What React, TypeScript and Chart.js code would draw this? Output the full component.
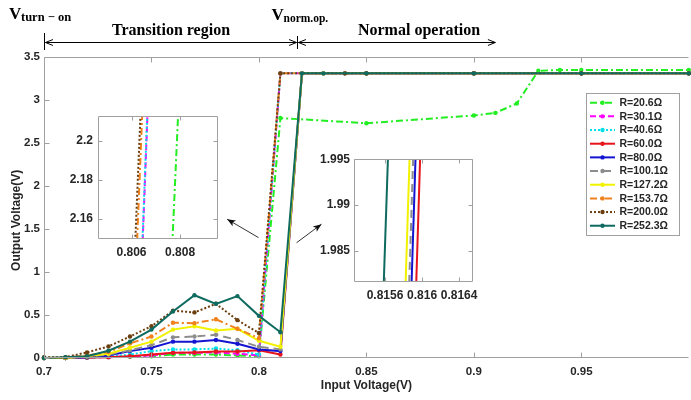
import React, { useEffect, useRef } from 'react';
import { Chart, registerables } from 'chart.js';
Chart.register(...registerables);

const SANS = '"Liberation Sans", Arial, sans-serif';
const SERIF = '"Liberation Serif", "Times New Roman", serif';
const TXT = '#262626';
const AXIS = '#a0a0a0';

// ---------------- data ----------------
const X_TICKS = [0.7, 0.75, 0.8, 0.85, 0.9, 0.95];
const Y_TICKS = [0, 0.5, 1, 1.5, 2, 2.5, 3, 3.5];
const INSET1_X_TICKS = [0.806, 0.808];
const INSET1_Y_TICKS = [2.16, 2.18, 2.2];
const INSET2_X_TICKS = [0.8156, 0.816, 0.8164];
const INSET2_Y_TICKS = [1.985, 1.99, 1.995];

const X_LOW = [0.70, 0.71, 0.72, 0.73, 0.74, 0.75, 0.76, 0.77, 0.78, 0.79, 0.80, 0.81];
const X_EARLY = [...X_LOW, 0.84, 0.85, 0.90, 0.95, 1.00];
const X_LATE = [...X_LOW, 0.82, 0.83, 0.85, 0.90, 0.95, 1.00];
const X_R20 = [...X_LOW, 0.85, 0.90, 0.91, 0.92, 0.93, 0.94, 0.95, 1.00];

const Y_R20 = [0, 0, 0.005, 0.01, 0.015, 0.02, 0.04, 0.04, 0.04, 0.03, 0.02, 2.79, 2.73, 2.82, 2.85, 2.96, 3.34, 3.35, 3.35, 3.35];
const Y_R30 = [0, 0, 0.005, 0.01, 0.02, 0.03, 0.06, 0.06, 0.065, 0.05, 0.03, 3.31, 3.31, 3.31, 3.31, 3.31, 3.31];
const Y_R40 = [0, 0, 0.005, 0.015, 0.04, 0.08, 0.10, 0.10, 0.11, 0.09, 0.04, 3.31, 3.31, 3.31, 3.31, 3.31, 3.31];
const Y_R60 = [0, 0, 0.005, 0.01, 0.02, 0.04, 0.06, 0.065, 0.075, 0.075, 0.09, 0.04, 3.31, 3.31, 3.31, 3.31, 3.31, 3.31];
const Y_R80 = [0, 0, 0.01, 0.03, 0.08, 0.12, 0.19, 0.19, 0.21, 0.165, 0.10, 0.08, 3.31, 3.31, 3.31, 3.31, 3.31, 3.31];
const Y_R100 = [0, 0, 0.015, 0.04, 0.09, 0.15, 0.24, 0.25, 0.27, 0.21, 0.13, 0.10, 3.31, 3.31, 3.31, 3.31, 3.31, 3.31];
const Y_R127 = [0, 0, 0.02, 0.05, 0.12, 0.19, 0.33, 0.37, 0.32, 0.34, 0.20, 0.13, 3.31, 3.31, 3.31, 3.31, 3.31, 3.31];
const Y_R153 = [0, 0.005, 0.03, 0.07, 0.17, 0.25, 0.41, 0.405, 0.45, 0.34, 0.23, 3.31, 3.31, 3.31, 3.31, 3.31, 3.31];
const Y_R200 = [0.01, 0.01, 0.065, 0.135, 0.25, 0.37, 0.55, 0.53, 0.63, 0.44, 0.29, 3.31, 3.31, 3.31, 3.31, 3.31, 3.31];
const Y_R252 = [0, 0.01, 0.02, 0.085, 0.19, 0.33, 0.54, 0.73, 0.63, 0.72, 0.49, 0.30, 3.31, 3.31, 3.31, 3.31, 3.31, 3.31];

const LABELS = ['R=20.6Ω', 'R=30.1Ω', 'R=40.6Ω', 'R=60.0Ω', 'R=80.0Ω', 'R=100.1Ω', 'R=127.2Ω', 'R=153.7Ω', 'R=200.0Ω', 'R=252.3Ω'];

// annotation positions (in data units)
const V_TURN_ON = 0.7;
const V_NORM_OP = 0.8177;
const NORMAL_END = 0.91;
const NORMAL_LABEL_X = 0.8745;
const Y_TITLE_CENTER = 1.6;
const ARROW1 = { x0: 0.7998, y0: 1.40, x1: 0.7852, y1: 1.614 };
const ARROW2 = { x0: 0.8175, y0: 1.34, x1: 0.8291, y1: 1.556 };

const SERIES = [
  { label: LABELS[0], x: X_R20, y: Y_R20, color: '#22ee22', dash: [7, 3, 2, 3] },
  { label: LABELS[1], x: X_EARLY, y: Y_R30, color: '#ff00ff', dash: [6, 3] },
  { label: LABELS[2], x: X_EARLY, y: Y_R40, color: '#00e0ea', dash: [2, 2] },
  { label: LABELS[3], x: X_LATE, y: Y_R60, color: '#e8141c', dash: [] },
  { label: LABELS[4], x: X_LATE, y: Y_R80, color: '#1414d2', dash: [] },
  { label: LABELS[5], x: X_LATE, y: Y_R100, color: '#8c8c8c', dash: [8, 5] },
  { label: LABELS[6], x: X_LATE, y: Y_R127, color: '#f2f200', dash: [] },
  { label: LABELS[7], x: X_EARLY, y: Y_R153, color: '#f0821e', dash: [7, 3, 2, 3] },
  { label: LABELS[8], x: X_EARLY, y: Y_R200, color: '#6b3f10', dash: [2, 2] },
  { label: LABELS[9], x: X_LATE, y: Y_R252, color: '#0f6b5f', dash: [] },
];

function makeDatasets(inset: boolean) {
  return SERIES.map((s, i) => ({
    label: s.label,
    data: s.x.map((x, j) => ({ x, y: s.y[j] })),
    borderColor: s.color,
    backgroundColor: s.color,
    borderWidth: 2,
    borderDash: s.dash,
    pointRadius: inset ? 0 : 2.2,
    pointBorderWidth: 0,
    pointHoverRadius: 0,
    order: SERIES.length - i,
    clip: inset ? 0 : 3,
    tension: 0,
  }));
}

const fmt = (v: number) => String(+Number(v).toFixed(5));

const framePlugin = {
  id: 'frame',
  beforeDraw(chart: any, _a: any, opts: any) {
    if (!opts || !opts.fill) return;
    const { left, top, right, bottom } = chart.chartArea;
    const ctx = chart.ctx;
    ctx.save();
    ctx.fillStyle = '#ffffff';
    ctx.fillRect(left, top, right - left, bottom - top);
    ctx.restore();
  },
  afterDatasetsDraw(chart: any, _a: any, opts: any) {
    const ctx = chart.ctx;
    const { left, top, right, bottom } = chart.chartArea;
    const L = (opts && opts.tick) || 5;
    const drawRight = !(opts && opts.noRight);
    ctx.save();
    ctx.strokeStyle = AXIS;
    ctx.lineWidth = 1;
    const ln = (a: number, b: number, c: number, d: number) => {
      ctx.beginPath(); ctx.moveTo(a, b); ctx.lineTo(c, d); ctx.stroke();
    };
    const l = Math.round(left) + 0.5, r = Math.round(right) - 0.5;
    const t = Math.round(top) + 0.5, b = Math.round(bottom) - 0.5;
    ln(l, t, l, b);
    ln(l, b, r, b);
    ln(l, t, r, t);
    if (drawRight) ln(r, t, r, b);
    const xs = chart.scales.x, ys = chart.scales.y;
    xs.ticks.forEach((tk: any) => {
      const px = Math.round(xs.getPixelForValue(tk.value)) + 0.5;
      ln(px, b, px, b - L);
      ln(px, t, px, t + L);
    });
    ys.ticks.forEach((tk: any) => {
      const py = Math.round(ys.getPixelForValue(tk.value)) + 0.5;
      ln(l, py, l + L, py);
      if (drawRight) ln(r, py, r - L, py);
    });
    ctx.restore();
  },
};

function drawHead(ctx: any, x: number, y: number, ang: number, len: number, open: boolean) {
  const a1 = ang + Math.PI - 0.38, a2 = ang + Math.PI + 0.38;
  ctx.beginPath();
  if (open) {
    ctx.moveTo(x + len * Math.cos(a1), y + len * Math.sin(a1));
    ctx.lineTo(x, y);
    ctx.lineTo(x + len * Math.cos(a2), y + len * Math.sin(a2));
    ctx.stroke();
  } else {
    ctx.moveTo(x, y);
    ctx.lineTo(x + len * Math.cos(a1), y + len * Math.sin(a1));
    ctx.lineTo(x + len * 0.7 * Math.cos(ang + Math.PI), y + len * 0.7 * Math.sin(ang + Math.PI));
    ctx.lineTo(x + len * Math.cos(a2), y + len * Math.sin(a2));
    ctx.closePath();
    ctx.fill();
  }
}

const annotPlugin = {
  id: 'annot',
  afterDraw(chart: any) {
    const ctx = chart.ctx;
    const xs = chart.scales.x, ys = chart.scales.y;
    const xa = Math.round(xs.getPixelForValue(V_TURN_ON)) + 0.5;
    const xb = Math.round(xs.getPixelForValue(V_NORM_OP)) + 0.5;
    const xc = xs.getPixelForValue(NORMAL_END);
    const ay = 42.5;
    ctx.save();
    ctx.strokeStyle = '#000';
    ctx.fillStyle = '#000';
    ctx.lineWidth = 1;
    const ln = (a: number, b: number, c: number, d: number) => {
      ctx.beginPath(); ctx.moveTo(a, b); ctx.lineTo(c, d); ctx.stroke();
    };
    ln(xa, 33, xa, 50);
    ln(xb, 36, xb, 49);
    ln(xa + 1, ay, xb - 1, ay);
    drawHead(ctx, xa + 1, ay, Math.PI, 8, true);
    drawHead(ctx, xb - 1, ay, 0, 8, true);
    ln(xb + 1, ay, xc, ay);
    drawHead(ctx, xb + 1, ay, Math.PI, 8, true);
    drawHead(ctx, xc, ay, 0, 8, true);

    ctx.textBaseline = 'alphabetic';
    ctx.textAlign = 'center';
    ctx.font = `bold 16px ${SERIF}`;
    ctx.fillText('Transition region', (xa + xb) / 2, 35);
    ctx.fillText('Normal operation', xs.getPixelForValue(NORMAL_LABEL_X), 35);

    ctx.textAlign = 'left';
    ctx.font = `bold 17px ${SERIF}`;
    ctx.fillText('V', 9, 19);
    ctx.font = `bold 12.5px ${SERIF}`;
    ctx.fillText('turn − on', 21, 21);
    ctx.font = `bold 17px ${SERIF}`;
    ctx.fillText('V', xb - 26, 20);
    ctx.font = `bold 11.5px ${SERIF}`;
    ctx.fillText('norm.op.', xb - 14, 22);

    // y-axis title
    ctx.save();
    ctx.translate(17, ys.getPixelForValue(Y_TITLE_CENTER));
    ctx.rotate(-Math.PI / 2);
    ctx.textAlign = 'center';
    ctx.textBaseline = 'middle';
    ctx.fillStyle = TXT;
    ctx.font = `bold 12px ${SANS}`;
    ctx.fillText('Output Voltage(V)', 0, 0);
    ctx.restore();

    // pointer arrows to insets
    ctx.strokeStyle = '#333';
    ctx.fillStyle = '#111';
    [ARROW1, ARROW2].forEach((a) => {
      const x0 = xs.getPixelForValue(a.x0), y0 = ys.getPixelForValue(a.y0);
      const x1 = xs.getPixelForValue(a.x1), y1 = ys.getPixelForValue(a.y1);
      ln(x0, y0, x1, y1);
      drawHead(ctx, x1, y1, Math.atan2(y1 - y0, x1 - x0), 9, false);
    });
    ctx.restore();
  },
};

const legendPlugin = {
  id: 'rlegend',
  afterDraw(chart: any) {
    const ctx = chart.ctx;
    const bx = 586, by = 93, bw = 93, bh = 142;
    ctx.save();
    ctx.fillStyle = '#fff';
    ctx.fillRect(bx, by, bw, bh);
    ctx.strokeStyle = AXIS;
    ctx.lineWidth = 1;
    ctx.strokeRect(bx + 0.5, by + 0.5, bw, bh);
    SERIES.forEach((s, i) => {
      const cy = by + 9.7 + i * 13.67;
      ctx.strokeStyle = s.color;
      ctx.lineWidth = 2;
      ctx.setLineDash(s.dash);
      ctx.beginPath(); ctx.moveTo(bx + 4, cy); ctx.lineTo(bx + 29, cy); ctx.stroke();
      ctx.setLineDash([]);
      ctx.fillStyle = s.color;
      ctx.beginPath(); ctx.arc(bx + 16.5, cy, 2.2, 0, Math.PI * 2); ctx.fill();
      ctx.fillStyle = TXT;
      ctx.font = `bold 10.5px ${SANS}`;
      ctx.textBaseline = 'middle';
      ctx.textAlign = 'left';
      ctx.fillText(s.label, bx + 33.5, cy + 0.5);
    });
    ctx.restore();
  },
};

function axisCfg(o: any) {
  return {
    type: 'linear',
    min: o.min,
    max: o.max,
    afterBuildTicks: (s: any) => { s.ticks = o.ticks.map((v: number) => ({ value: v })); },
    afterFit: (s: any) => { if (o.w !== undefined) s.width = o.w; if (o.h !== undefined) s.height = o.h; },
    grid: { display: false, drawTicks: false },
    border: { display: false },
    ticks: {
      font: { family: SANS, size: o.fs, weight: 'bold' },
      color: TXT,
      padding: o.pad,
      autoSkip: false,
      maxRotation: 0,
      callback: (v: any) => fmt(v),
    },
    title: o.title
      ? { display: true, text: o.title, color: TXT, font: { family: SANS, size: 12, weight: 'bold' }, padding: o.tpad }
      : { display: false },
  };
}

export default function App() {
  const mainRef = useRef<HTMLCanvasElement>(null);
  const in1Ref = useRef<HTMLCanvasElement>(null);
  const in2Ref = useRef<HTMLCanvasElement>(null);

  useEffect(() => {
    document.body.style.margin = '0';
    const main = new Chart(mainRef.current as any, {
      type: 'line',
      data: { datasets: makeDatasets(false) as any },
      options: {
        animation: false,
        responsive: false,
        devicePixelRatio: 1,
        layout: { padding: { top: 57, right: 0, left: 0, bottom: 0 } },
        plugins: { legend: { display: false }, tooltip: { enabled: false }, frame: { tick: 5, noRight: true } } as any,
        scales: {
          x: axisCfg({ min: 0.7, max: 1.0, ticks: X_TICKS, h: 42, fs: 11.5, pad: 7, title: 'Input Voltage(V)', tpad: { top: 0, bottom: 7 } }) as any,
          y: axisCfg({ min: 0, max: 3.5, ticks: Y_TICKS, w: 44, fs: 11.5, pad: 4 }) as any,
        },
      },
      plugins: [framePlugin, annotPlugin, legendPlugin],
    });
    const inset1 = new Chart(in1Ref.current as any, {
      type: 'line',
      data: { datasets: makeDatasets(true) as any },
      options: {
        animation: false,
        responsive: false,
        devicePixelRatio: 1,
        layout: { padding: { top: 7, right: 5, left: 0, bottom: 0 } },
        plugins: { legend: { display: false }, tooltip: { enabled: false }, frame: { tick: 4, fill: true } } as any,
        scales: {
          x: axisCfg({ min: 0.80462, max: 0.80956, ticks: INSET1_X_TICKS, h: 25, fs: 12, pad: 6 }) as any,
          y: axisCfg({ min: 2.1497, max: 2.2126, ticks: INSET1_Y_TICKS, w: 43, fs: 12, pad: 5 }) as any,
        },
      },
      plugins: [framePlugin],
    });
    const inset2 = new Chart(in2Ref.current as any, {
      type: 'line',
      data: { datasets: makeDatasets(true) as any },
      options: {
        animation: false,
        responsive: false,
        devicePixelRatio: 1,
        layout: { padding: { top: 9, right: 14, left: 0, bottom: 0 } },
        plugins: { legend: { display: false }, tooltip: { enabled: false }, frame: { tick: 4, fill: true } } as any,
        scales: {
          x: axisCfg({ min: 0.815265, max: 0.81655, ticks: INSET2_X_TICKS, h: 23, fs: 12, pad: 6 }) as any,
          y: axisCfg({ min: 1.9816, max: 1.995, ticks: INSET2_Y_TICKS, w: 54, fs: 12, pad: 4 }) as any,
        },
      },
      plugins: [framePlugin],
    });
    return () => {
      main.destroy();
      inset1.destroy();
      inset2.destroy();
    };
  }, []);

  return (
    <div style={{ position: 'relative', width: 691, height: 400, overflow: 'hidden', background: '#fff' }}>
      <canvas ref={mainRef} width={691} height={400} style={{ position: 'absolute', left: 0, top: 0, width: 691, height: 400 }} />
      <canvas ref={in1Ref} width={168} height={160} style={{ position: 'absolute', left: 55, top: 104, width: 168, height: 160 }} />
      <canvas ref={in2Ref} width={187} height={157} style={{ position: 'absolute', left: 300, top: 148, width: 187, height: 157 }} />
    </div>
  );
}
